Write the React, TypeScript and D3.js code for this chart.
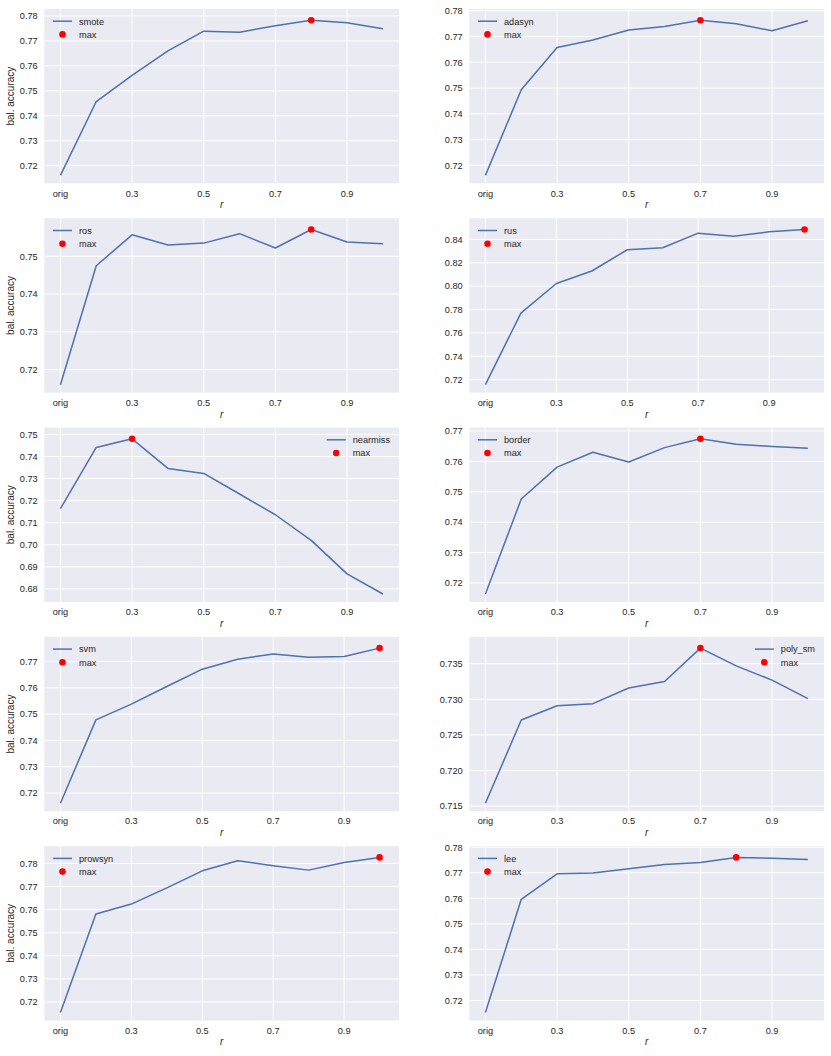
import React, { useEffect, useRef } from 'react';
import * as d3 from 'd3';

// sampling ratios r; 'orig' is the untouched data set
const ratios = ['orig', '0.2', '0.3', '0.4', '0.5', '0.6', '0.7', '0.8', '0.9', '1.0'];
const xTickLabels = ['orig', '0.3', '0.5', '0.7', '0.9'];

const smote = [0.7161, 0.7457, 0.7562, 0.766, 0.7739, 0.7735, 0.7761, 0.7783, 0.7773, 0.7749];
const adasyn = [0.7161, 0.7493, 0.7657, 0.7686, 0.7725, 0.7739, 0.7763, 0.7749, 0.7722, 0.7761];
const ros = [0.716, 0.7475, 0.7557, 0.753, 0.7535, 0.756, 0.7522, 0.7571, 0.7538, 0.7533];
const rus = [0.7157, 0.777, 0.8023, 0.813, 0.8312, 0.8329, 0.8454, 0.8428, 0.8465, 0.8485];
const nearmiss = [0.7164, 0.7441, 0.748, 0.7346, 0.7323, 0.723, 0.7136, 0.702, 0.6868, 0.6777];
const border = [0.7164, 0.7476, 0.7581, 0.763, 0.7598, 0.7645, 0.7674, 0.7656, 0.7649, 0.7643];
const svm = [0.7161, 0.7478, 0.7538, 0.7605, 0.7671, 0.7709, 0.7729, 0.7716, 0.7719, 0.7751];
const polySm = [0.7154, 0.7271, 0.7291, 0.7294, 0.7316, 0.7325, 0.7372, 0.7347, 0.7327, 0.7301];
const prowsyn = [0.7154, 0.7581, 0.7624, 0.7694, 0.7768, 0.7812, 0.779, 0.7771, 0.7804, 0.7826];
const lee = [0.7153, 0.7596, 0.7696, 0.7699, 0.7716, 0.7732, 0.774, 0.776, 0.7757, 0.7752];

const smoteTicks = [0.72, 0.73, 0.74, 0.75, 0.76, 0.77, 0.78];
const adasynTicks = [0.72, 0.73, 0.74, 0.75, 0.76, 0.77, 0.78];
const rosTicks = [0.72, 0.73, 0.74, 0.75];
const rusTicks = [0.72, 0.74, 0.76, 0.78, 0.8, 0.82, 0.84];
const nearmissTicks = [0.68, 0.69, 0.7, 0.71, 0.72, 0.73, 0.74, 0.75];
const borderTicks = [0.72, 0.73, 0.74, 0.75, 0.76, 0.77];
const svmTicks = [0.72, 0.73, 0.74, 0.75, 0.76, 0.77];
const polySmTicks = [0.715, 0.72, 0.725, 0.73, 0.735];
const prowsynTicks = [0.72, 0.73, 0.74, 0.75, 0.76, 0.77, 0.78];
const leeTicks = [0.72, 0.73, 0.74, 0.75, 0.76, 0.77, 0.78];

const panels = [
  { name: 'smote', values: smote, ticks: smoteTicks },
  { name: 'adasyn', values: adasyn, ticks: adasynTicks },
  { name: 'ros', values: ros, ticks: rosTicks },
  { name: 'rus', values: rus, ticks: rusTicks },
  { name: 'nearmiss', values: nearmiss, ticks: nearmissTicks },
  { name: 'border', values: border, ticks: borderTicks },
  { name: 'svm', values: svm, ticks: svmTicks },
  { name: 'poly_sm', values: polySm, ticks: polySmTicks },
  { name: 'prowsyn', values: prowsyn, ticks: prowsynTicks },
  { name: 'lee', values: lee, ticks: leeTicks },
];
const rightLegends = ['nearmiss', 'poly_sm'];

const W = 354.7;
const H = 174.3;
const colLeft = [44.3, 469.3];
const rowTop = 9;
const rowStep = 209.3;
const R = 3.3;
const FONT = "'Liberation Sans', Arial, sans-serif";
const INK = '#262626';

// matplotlib-like autoscale: 5% margins, plus room for the max marker
const padded = (lo: number, hi: number, extraPx: number, len: number) => {
  const D = (hi - lo) / (1 - (1.1 * extraPx) / len);
  return [lo - 0.05 * D, lo + D + 0.05 * D];
};

export default function App() {
  const svgRef = useRef<SVGSVGElement>(null);

  useEffect(() => {
    if (!svgRef.current) return;
    const svg = d3.select(svgRef.current);
    svg.selectAll('*').remove();

    panels.forEach((p, i) => {
      const col = i % 2;
      const row = Math.floor(i / 2);
      const g = svg.append('g')
        .attr('transform', `translate(${colLeft[col]},${rowTop + row * rowStep})`)
        .style('font-family', FONT);

      const n = p.values.length;
      const best = d3.maxIndex(p.values);
      const x = d3.scaleLinear()
        .domain(padded(0, n - 1, best === n - 1 ? R : 0, W))
        .range([0, W]);
      const y = d3.scaleLinear()
        .domain(padded(d3.min(p.values)!, d3.max(p.values)!, R, H))
        .range([H, 0]);
      const step = +(p.ticks[1] - p.ticks[0]).toFixed(4);
      const fmt = d3.format(`.${d3.precisionFixed(step)}f`);
      const xTicks = xTickLabels.map(l => ratios.indexOf(l));

      g.append('rect').attr('width', W).attr('height', H).attr('fill', '#eaeaf2');

      g.selectAll('.gy').data(p.ticks).join('line')
        .attr('x1', 0).attr('x2', W)
        .attr('y1', d => y(d)).attr('y2', d => y(d))
        .attr('stroke', '#fff').attr('stroke-width', 1);
      g.selectAll('.gx').data(xTicks).join('line')
        .attr('x1', d => x(d)).attr('x2', d => x(d))
        .attr('y1', 0).attr('y2', H)
        .attr('stroke', '#fff').attr('stroke-width', 1);

      g.selectAll('.ty').data(p.ticks).join('text')
        .attr('x', -6.6).attr('y', d => y(d) + 3.3)
        .attr('text-anchor', 'end')
        .attr('font-size', 9.2).attr('fill', INK)
        .text(d => fmt(d));
      g.selectAll('.tx').data(xTicks).join('text')
        .attr('x', d => x(d)).attr('y', H + 13.3)
        .attr('text-anchor', 'middle')
        .attr('font-size', 9.2).attr('fill', INK)
        .text(d => ratios[d]);

      const line = d3.line<number>().x((_, k) => x(k)).y(d => y(d));
      g.append('path').datum(p.values)
        .attr('fill', 'none').attr('stroke', '#4c72b0')
        .attr('stroke-width', 1.5).attr('stroke-linejoin', 'round')
        .attr('d', line);
      g.append('circle')
        .attr('cx', x(best)).attr('cy', y(p.values[best]))
        .attr('r', R).attr('fill', 'red');

      // legend
      const leg = g.append('g');
      const t1 = leg.append('text').text(p.name).attr('y', 12.2 + 3.3)
        .attr('font-size', 9.2).attr('fill', INK);
      const t2 = leg.append('text').text('max').attr('y', 25.4 + 3.3)
        .attr('font-size', 9.2).attr('fill', INK);
      const tw = Math.max(
        (t1.node() as SVGTextElement).getComputedTextLength(),
        (t2.node() as SVGTextElement).getComputedTextLength()
      );
      const tx = rightLegends.includes(p.name) ? W - 9 - tw : 34.7;
      t1.attr('x', tx);
      t2.attr('x', tx);
      leg.append('line')
        .attr('x1', tx - 26).attr('x2', tx - 7)
        .attr('y1', 12.2).attr('y2', 12.2)
        .attr('stroke', '#4c72b0').attr('stroke-width', 1.5);
      leg.append('circle')
        .attr('cx', tx - 16.5).attr('cy', 25.4)
        .attr('r', R).attr('fill', 'red');

      g.append('text')
        .attr('x', W / 2).attr('y', H + 25)
        .attr('text-anchor', 'middle')
        .attr('font-size', 10).attr('font-style', 'italic').attr('fill', INK)
        .text('r');

      if (col === 0) {
        g.append('text')
          .attr('transform', `translate(${14.3 - colLeft[0]},${H / 2}) rotate(-90)`)
          .attr('text-anchor', 'middle')
          .attr('font-size', 10).attr('fill', INK)
          .text('bal. accuracy');
      }
    });
  }, []);

  return (
    <svg
      ref={svgRef}
      width={831}
      height={1056}
      style={{ position: 'absolute', left: 0, top: 0, background: '#fff' }}
    />
  );
}
